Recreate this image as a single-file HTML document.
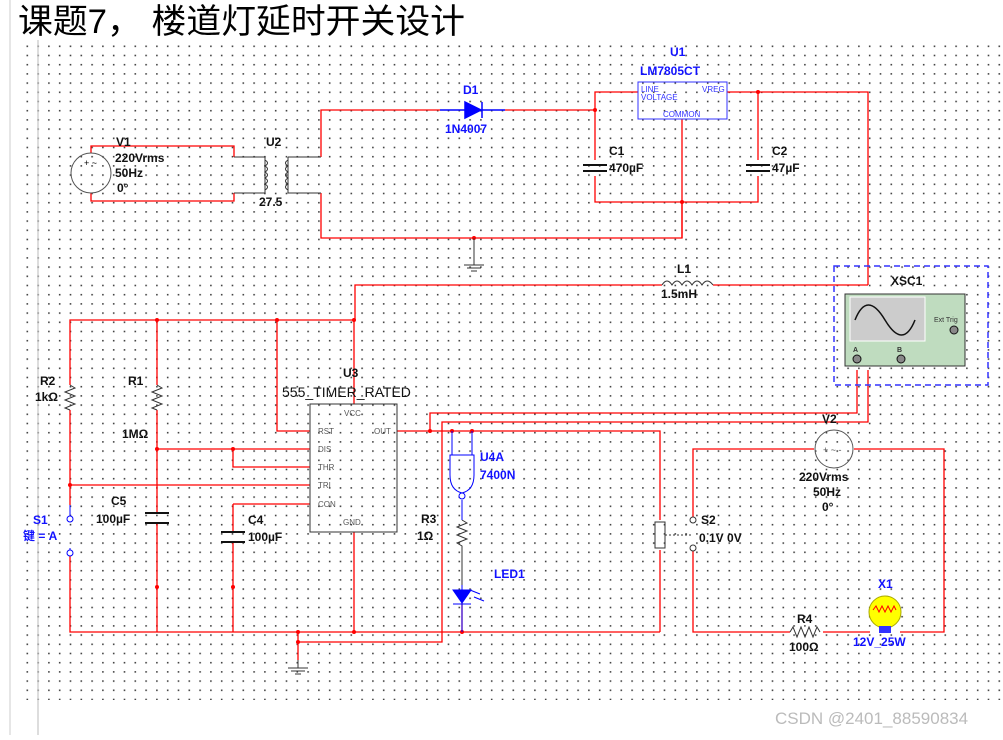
<!DOCTYPE html>
<html><head><meta charset="utf-8"><style>
body{margin:0;background:#fff;width:1003px;height:735px;overflow:hidden}
svg text{font-family:"Liberation Sans",Arial,sans-serif;font-weight:bold}
</style></head><body>
<svg width="1003" height="735" xmlns="http://www.w3.org/2000/svg" font-size="12">
<defs><pattern id="g" x="26.5" y="45.5" width="10.8" height="9.2" patternUnits="userSpaceOnUse"><rect x="0" y="0" width="1.6" height="1.6" fill="#444"/></pattern></defs>
<rect x="22" y="40" width="981" height="660" fill="url(#g)"/>
<line x1="10" y1="0" x2="10" y2="735" stroke="#ccc"/>
<line x1="38" y1="40" x2="38" y2="735" stroke="#bbb"/>
<text x="18" y="33" font-size="34" style="font-family:'Liberation Sans','Noto Sans CJK SC',sans-serif;font-weight:normal" fill="#000" textLength="447" lengthAdjust="spacingAndGlyphs">课题7， 楼道灯延时开关设计</text>
<g fill="none" stroke="#f00" stroke-width="1.3">
<path d="M91 153V146H234V157M91 193V201H234V193"/>
<path d="M321 157V110H440M505 110H595V92H638M727 92H868V285M321 193V238H682V119"/>
<path d="M595 110V160M595 176V202H758V176M758 160V92M682 202V238"/>
<path d="M355 320V285H662M713 285H868"/>
<path d="M70 385V320H354V404M157 385V320M277 320V431H310M70 410V505M70 555V632H660M157 410V513M157 523V632"/>
<path d="M157 449H310M233 449V467H310M70 485H310M233 504H310M233 504V532M233 542V632M354 532V632M298 632V660"/>
<path d="M397 431H660V520M660 550V632M430 431V413H857V370M442 431V422H868V370M442 422V642H298"/>
<path d="M462 632V603M693 520V449H814M854 449H944V632H900M870 632H823M790 632H693V548"/>
</g>
<g fill="#f00"><circle cx="595" cy="110" r="2"/><circle cx="758" cy="92" r="2"/><circle cx="682" cy="202" r="2"/><circle cx="474" cy="238" r="2"/><circle cx="157" cy="320" r="2"/><circle cx="277" cy="320" r="2"/><circle cx="354" cy="320" r="2"/><circle cx="157" cy="449" r="2"/><circle cx="233" cy="449" r="2"/><circle cx="70" cy="485" r="2"/><circle cx="157" cy="587" r="2"/><circle cx="233" cy="587" r="2"/><circle cx="298" cy="632" r="2"/><circle cx="354" cy="632" r="2"/><circle cx="298" cy="642" r="2"/><circle cx="430" cy="431" r="2"/><circle cx="452" cy="431" r="2"/><circle cx="472" cy="431" r="2"/><circle cx="462" cy="632" r="2"/></g>
<circle cx="91" cy="173" r="20" fill="none" stroke="#555"/><text x="84" y="166" font-size="9" style="font-weight:normal">+ ~</text>
<g fill="none" stroke="#333"><path d="M234 157H265V193H234M288 157V193H321M288 157H321"/><path d="M265 160q5 3 0 6q5 3 0 6q5 3 0 6q5 3 0 6q5 3 0 6" /><path d="M288 160q-5 3 0 6q-5 3 0 6q-5 3 0 6q-5 3 0 6q-5 3 0 6"/></g>
<g stroke="#333"><path d="M474 238V265M464 265H484M467 268H481M471 271H477M298 660V668M288 668H308M291 671H305M295 674H301"/></g>
<path d="M440 110H505M465 102L481 110L465 118Z M482 102V118" stroke="#00f" fill="#00f" stroke-width="1.5"/>
<rect x="638" y="82" width="89" height="37" fill="none" stroke="#33f"/>
<g fill="#33f" style="font-family:'Liberation Mono',monospace" font-size="8"><text x="641" y="92" style="font-weight:normal">LINE</text><text x="702" y="92" style="font-weight:normal">VREG</text><text x="641" y="100" style="font-weight:normal">VOLTAGE</text><text x="663" y="117" style="font-weight:normal">COMMON</text></g>
<g stroke="#111" stroke-width="2"><path d="M583 165H607M583 171H607M746 165H770M746 171H770M145 513H169M145 523H169M221 532H245M221 542H245"/></g>
<path d="M662 285q5-8 10 0q5-8 10 0q5-8 10 0q5-8 10 0q5-8 11 0" fill="none" stroke="#333"/>
<g fill="none" stroke="#333"><path d="M70 385l5 3-10 4 10 4-10 4 10 4-10 4 5 2M157 385l5 3-10 4 10 4-10 4 10 4-10 4 5 2M462 520l5 3-10 4 10 4-10 4 10 4-10 4 5 3V585M790 632l3-5 4 10 4-10 4 10 4-10 4 10 4-10 3 5"/></g>
<rect x="310" y="404" width="87" height="128" fill="none" stroke="#333"/>
<g font-size="8" fill="#555" style="font-family:'Liberation Mono',monospace"><text x="318" y="434" style="font-weight:normal">RST</text><text x="318" y="452" style="font-weight:normal">DIS</text><text x="318" y="470" style="font-weight:normal">THR</text><text x="318" y="488" style="font-weight:normal">TRI</text><text x="318" y="507" style="font-weight:normal">CON</text><text x="344" y="416" style="font-weight:normal">VCC</text><text x="343" y="525" style="font-weight:normal">GND</text><text x="374" y="434" style="font-weight:normal">OUT</text></g>
<path d="M70 505V516M70 548V555" stroke="#00f"/><circle cx="70" cy="519" r="3" fill="#fff" stroke="#00f"/><circle cx="70" cy="553" r="3" fill="#fff" stroke="#00f"/>
<path d="M452 431V455M472 431V455M450 455H474V475Q474 490 462 493Q450 490 450 475Z M462 500V520" fill="none" stroke="#00f"/><circle cx="462" cy="496" r="3" fill="#fff" stroke="#00f"/>
<path d="M462 585V632M453 590H471L462 603Z M453 604H471" stroke="#00f" fill="#00f"/>
<path d="M470 590l10 4M474 597l10 4" stroke="#00f"/>
<rect x="655" y="522" width="10" height="26" fill="none" stroke="#333"/><path d="M665 535H693" stroke="#333" stroke-dasharray="2 2"/>
<circle cx="693" cy="520" r="3" fill="#fff" stroke="#333"/><circle cx="693" cy="548" r="3" fill="#fff" stroke="#333"/>
<circle cx="834" cy="449" r="19" fill="none" stroke="#555"/><text x="823" y="453" font-size="9" style="font-weight:normal" fill="#555">+ ~ -</text>
<circle cx="885" cy="612" r="16" fill="#ff0" stroke="#aa0"/><path d="M873 610l3-4 3 6 3-6 3 6 3-6 3 6 3-6 2 4" fill="none" stroke="#f00"/><rect x="879" y="626" width="12" height="7" fill="#33f"/>
<rect x="834" y="266" width="154" height="119" fill="none" stroke="#33f" stroke-dasharray="6 4" stroke-width="1.5"/>
<rect x="845" y="294" width="120" height="72" fill="#bfdcbf" stroke="#333"/>
<rect x="850" y="297" width="75" height="44" fill="#ccc" stroke="#fff"/>
<path d="M855 320q12-30 30 0t30 0" fill="none" stroke="#111" stroke-width="1.5"/>
<circle cx="857" cy="359" r="4" fill="#888" stroke="#111"/><circle cx="901" cy="359" r="4" fill="#888" stroke="#111"/><circle cx="954" cy="330" r="4" fill="#888" stroke="#111"/>
<text x="934" y="322" font-size="7" style="font-weight:normal" fill="#333">Ext Trig</text><text x="853" y="352" font-size="7" fill="#333">A</text><text x="897" y="352" font-size="7" fill="#333">B</text>
<g fill="#111">
<text x="116" y="146">V1</text><text x="115" y="162">220Vrms</text><text x="115" y="177">50Hz</text><text x="117" y="192">0°</text>
<text x="266" y="146">U2</text><text x="259" y="206">27.5</text>
<text x="609" y="155">C1</text><text x="609" y="172">470µF</text><text x="772" y="155">C2</text><text x="772" y="172">47µF</text>
<text x="677" y="273">L1</text><text x="661" y="298">1.5mH</text><text x="891" y="285">XSC1</text>
<text x="40" y="385">R2</text><text x="35" y="401">1kΩ</text><text x="128" y="385">R1</text><text x="122" y="438">1MΩ</text>
<text x="111" y="505">C5</text><text x="96" y="523">100µF</text><text x="248" y="524">C4</text><text x="248" y="541">100µF</text>
<text x="343" y="377">U3</text><text x="282" y="397" style="font-weight:normal" font-size="14">555_TIMER_RATED</text>
<text x="421" y="523">R3</text><text x="417" y="540">1Ω</text>
<text x="701" y="524">S2</text><text x="699" y="542">0.1V 0V</text>
<text x="822" y="423">V2</text><text x="799" y="481">220Vrms</text><text x="813" y="496">50Hz</text><text x="822" y="511">0°</text>
<text x="797" y="623">R4</text><text x="789" y="651">100Ω</text>
</g>
<g fill="#11f">
<text x="463" y="94">D1</text><text x="445" y="133">1N4007</text><text x="670" y="56">U1</text><text x="640" y="75">LM7805CT</text>
<text x="480" y="461">U4A</text><text x="480" y="479">7400N</text><text x="494" y="578">LED1</text>
<text x="878" y="588">X1</text><text x="853" y="646">12V_25W</text>
<text x="33" y="524">S1</text><text x="23" y="540" style="font-family:'Liberation Sans','Noto Sans CJK SC',sans-serif">键 = A</text>
</g>
<text x="775" y="724" style="font-weight:normal" font-size="17" fill="#bbb">CSDN @2401_88590834</text>
</svg>
</body></html>
